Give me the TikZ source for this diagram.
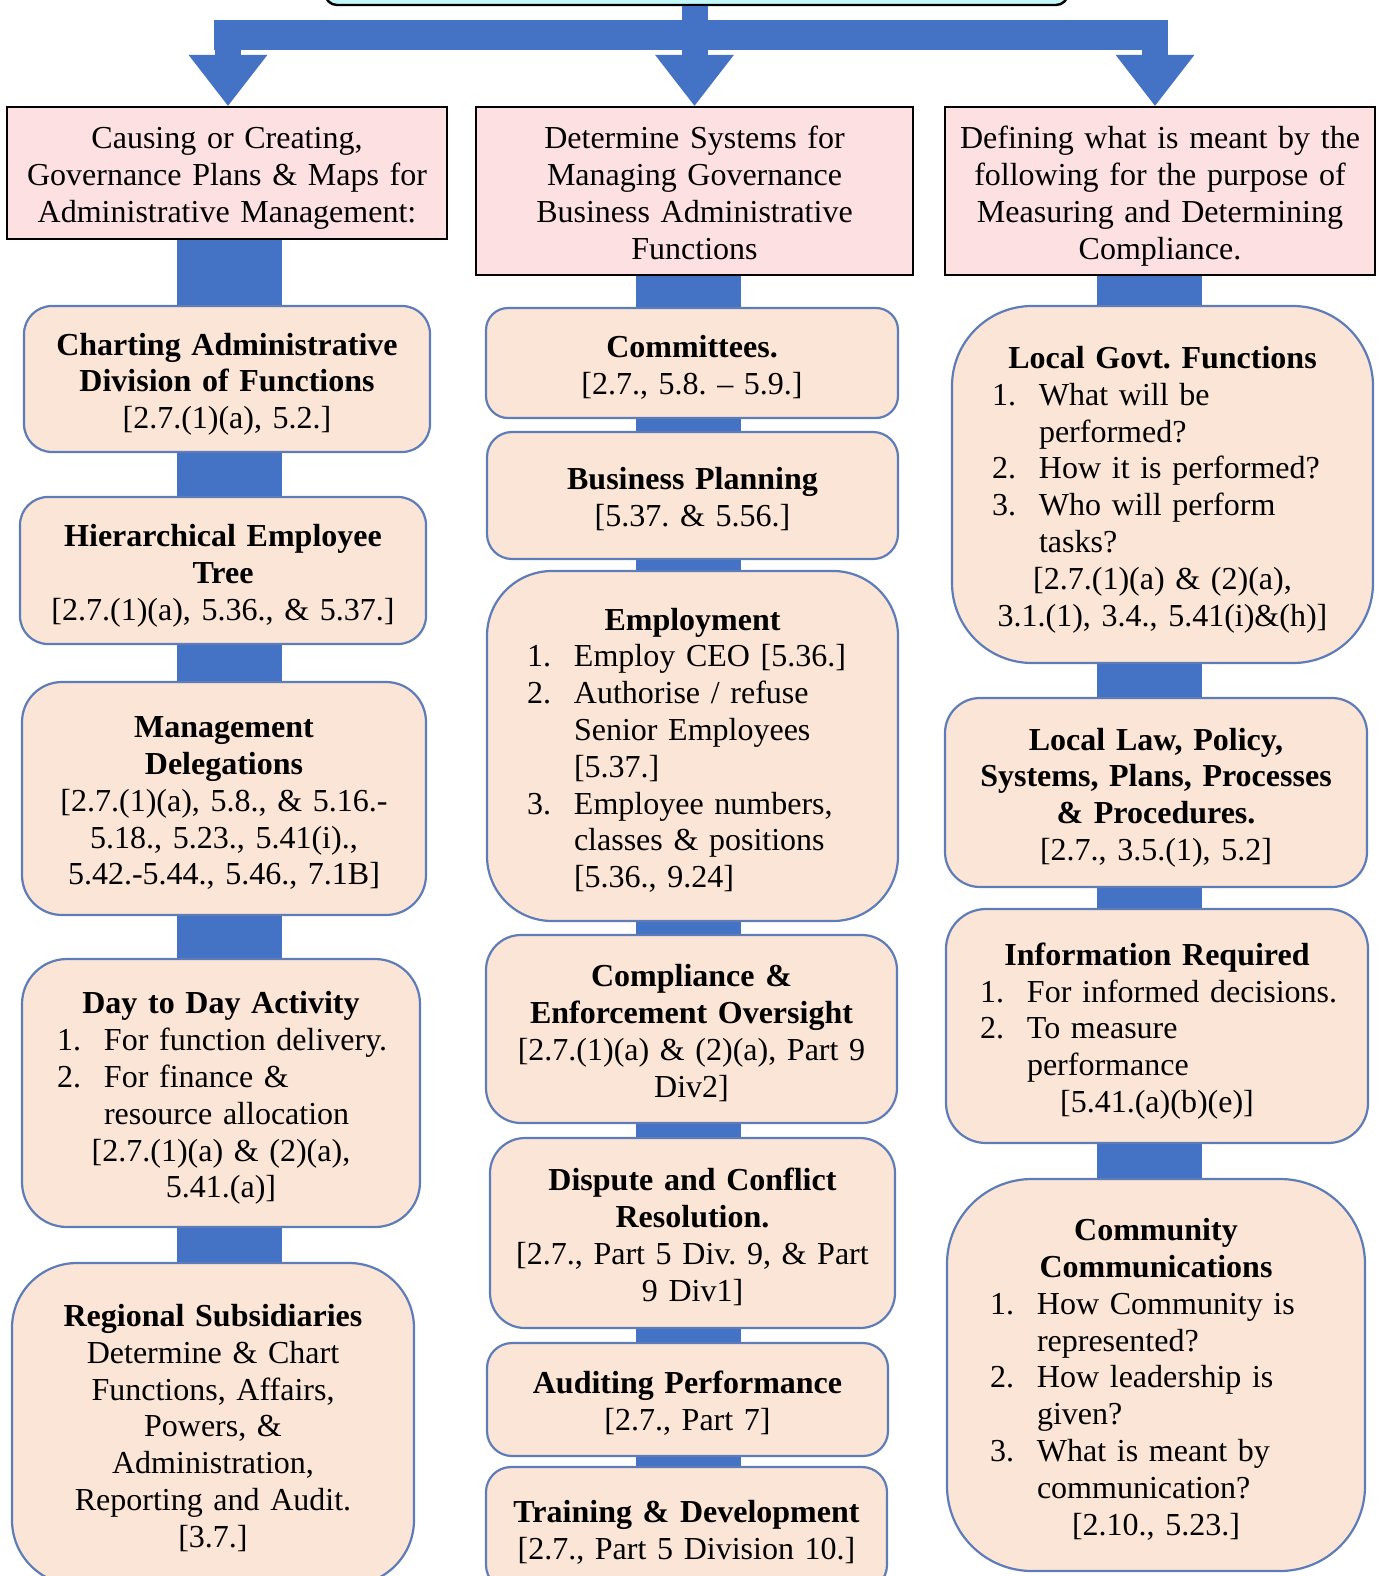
\documentclass[tikz,border=0pt]{standalone}
\usepackage{fontspec}
\setmainfont{Liberation Serif}
\usetikzlibrary{backgrounds,calc}
\frenchspacing

\definecolor{flow}{RGB}{68,114,196}
\definecolor{boxfill}{RGB}{251,229,214}
\definecolor{boxline}{RGB}{94,124,184}
\definecolor{headfill}{RGB}{253,224,225}
\definecolor{topfill}{RGB}{196,247,247}

% struts giving each text block a full first and last line
\newcommand\topstrut{\rule{0pt}{32.5pt}}
\newcommand\botstrut{\rule[-6.9pt]{0pt}{6.9pt}}
% numbered line: #1 offset of the number, #2 number, #3 text
\newcommand\numitem[3]{\makebox[\linewidth][l]{\hspace*{#1pt}\makebox[47pt][l]{#2}#3}}
% continuation line at the hanging indent
\newcommand\contline[2]{\makebox[\linewidth][l]{\hspace*{#1pt}#2}}

\begin{document}
\begin{tikzpicture}[x=1pt,y=-1pt,
  every node/.style={font=\fontsize{32}{36.8}\selectfont, align=center,
    inner xsep=0pt, inner ysep=0pt},
  headbox/.style={draw=black, line width=2.4pt, fill=headfill},
  topicbox/.style={draw=boxline, line width=2.2pt, fill=boxfill},
  link/.style={draw=flow, line width=105pt},
  arm/.style={draw=flow, line width=26pt},
]
\useasboundingbox (0,0) rectangle (1379,1576);

% top box (only its lower edge lies on the page)
\node[draw=black, line width=2.4pt, fill=topfill, rounded corners=12pt,
      minimum width=743pt, minimum height=70pt] (T) at (696.5,-30) {};

% column headers
\node[headbox, text width=440pt, minimum height=132pt] (H1) at (227,173)
  {\topstrut Causing or Creating,\\Governance Plans \& Maps for\\Administrative Management:\botstrut};
\node[headbox, text width=437pt, minimum height=168pt] (H2) at (694.5,191)
  {\topstrut Determine Systems for\\Managing Governance\\Business Administrative\\Functions\botstrut};
\node[headbox, text width=430pt, minimum height=168pt] (H3) at (1160,191)
  {\topstrut Defining what is meant by the\\following for the purpose of\\Measuring and Determining\\Compliance.\botstrut};

% left column
\node[topicbox, text width=406pt, minimum height=146pt, rounded corners=28pt] (L1) at (227,379)
  {\topstrut\textbf{Charting Administrative}\\\textbf{Division of Functions}\\{}[2.7.(1)(a), 5.2.]\botstrut};
\node[topicbox, text width=406pt, minimum height=147pt, rounded corners=28pt] (L2) at (223,570.5)
  {\topstrut\textbf{Hierarchical Employee}\\\textbf{Tree}\\{}[2.7.(1)(a), 5.36., \& 5.37.]\botstrut};
\node[topicbox, text width=404pt, minimum height=233pt, rounded corners=40pt] (L3) at (224,798.5)
  {\topstrut\textbf{Management}\\\textbf{Delegations}\\{}[2.7.(1)(a), 5.8., \& 5.16.-\\5.18., 5.23., 5.41(i).,\\5.42.-5.44., 5.46., 7.1B]\botstrut};
\node[topicbox, text width=398pt, minimum height=268pt, rounded corners=45pt] (L4) at (221,1093)
  {\topstrut\textbf{Day to Day Activity}\\
   \numitem{35}{1.}{For function delivery.}\\
   \numitem{35}{2.}{For finance \&}\\
   \contline{82}{resource allocation}\\
   {}[2.7.(1)(a) \& (2)(a),\\5.41.(a)]\botstrut};
\node[topicbox, text width=402pt, minimum height=322pt, rounded corners=65pt] (L5) at (213,1424)
  {\topstrut\textbf{Regional Subsidiaries}\\Determine \& Chart\\Functions, Affairs,\\Powers, \&\\Administration,\\Reporting and Audit.\\{}[3.7.]\botstrut};

% middle column
\node[topicbox, text width=412pt, minimum height=110pt, rounded corners=22pt] (M1) at (692,363)
  {\topstrut\textbf{Committees.}\\{}[2.7., 5.8. -- 5.9.]\botstrut};
\node[topicbox, text width=411pt, minimum height=127pt, rounded corners=25pt] (M2) at (692.5,495.5)
  {\topstrut\textbf{Business Planning}\\{}[5.37. \& 5.56.]\botstrut};
\node[topicbox, text width=411pt, minimum height=350pt, rounded corners=65pt] (M3) at (692.5,746)
  {\topstrut\textbf{Employment}\\
   \numitem{40}{1.}{Employ CEO [5.36.]}\\
   \numitem{40}{2.}{Authorise / refuse}\\
   \contline{87}{Senior Employees}\\
   \contline{87}{[5.37.]}\\
   \numitem{40}{3.}{Employee numbers,}\\
   \contline{87}{classes \& positions}\\
   \contline{87}{[5.36., 9.24]}\botstrut};
\node[topicbox, text width=411pt, minimum height=188pt, rounded corners=35pt] (M4) at (691.5,1029)
  {\topstrut\textbf{Compliance \&}\\\textbf{Enforcement Oversight}\\{}[2.7.(1)(a) \& (2)(a), Part 9\\Div2]\botstrut};
\node[topicbox, text width=405pt, minimum height=190pt, rounded corners=35pt] (M5) at (692.5,1233)
  {\topstrut\textbf{Dispute and Conflict}\\\textbf{Resolution.}\\{}[2.7., Part 5 Div. 9, \& Part\\9 Div1]\botstrut};
\node[topicbox, text width=401pt, minimum height=113pt, rounded corners=25pt] (M6) at (687.5,1399.5)
  {\topstrut\textbf{Auditing Performance}\\{}[2.7., Part 7]\botstrut};
\node[topicbox, text width=401pt, minimum height=123pt, rounded corners=25pt] (M7) at (686.5,1528.5)
  {\topstrut\textbf{Training \& Development}\\{}[2.7., Part 5 Division 10.]\botstrut};

% right column
\node[topicbox, text width=421pt, minimum height=357pt, rounded corners=80pt] (R1) at (1162.5,484.5)
  {\topstrut\textbf{Local Govt. Functions}\\
   \numitem{40}{1.}{What will be}\\
   \contline{87}{performed?}\\
   \numitem{40}{2.}{How it is performed?}\\
   \numitem{40}{3.}{Who will perform}\\
   \contline{87}{tasks?}\\
   {}[2.7.(1)(a) \& (2)(a),\\3.1.(1), 3.4., 5.41(i)\&(h)]\botstrut};
\node[topicbox, text width=422pt, minimum height=189pt, rounded corners=35pt] (R2) at (1156,792.5)
  {\topstrut\textbf{Local Law, Policy,}\\\textbf{Systems, Plans, Processes}\\\textbf{\& Procedures.}\\{}[2.7., 3.5.(1), 5.2]\botstrut};
\node[topicbox, text width=422pt, minimum height=234pt, rounded corners=40pt] (R3) at (1157,1026)
  {\topstrut\textbf{Information Required}\\
   \numitem{34}{1.}{For informed decisions.}\\
   \numitem{34}{2.}{To measure}\\
   \contline{81}{performance}\\
   {}[5.41.(a)(b)(e)]\botstrut};
\node[topicbox, text width=418pt, minimum height=392pt, rounded corners=85pt] (R4) at (1156,1375)
  {\topstrut\textbf{Community}\\\textbf{Communications}\\
   \numitem{43}{1.}{How Community is}\\
   \contline{90}{represented?}\\
   \numitem{43}{2.}{How leadership is}\\
   \contline{90}{given?}\\
   \numitem{43}{3.}{What is meant by}\\
   \contline{90}{communication?}\\
   {}[2.10., 5.23.]\botstrut};

% vertical links behind the boxes
\coordinate (colL) at (229,0);
\coordinate (colM) at (688,0);
\coordinate (colR) at (1149.5,0);
\begin{scope}[on background layer]
  \draw[link] (H1.south -| colL) -- (L1.north -| colL);
  \draw[link] (L1.south -| colL) -- (L2.north -| colL);
  \draw[link] (L2.south -| colL) -- (L3.north -| colL);
  \draw[link] (L3.south -| colL) -- (L4.north -| colL);
  \draw[link] (L4.south -| colL) -- (L5.north -| colL);
  \draw[link] (H2.south -| colM) -- (M1.north -| colM);
  \draw[link] (M1.south -| colM) -- (M2.north -| colM);
  \draw[link] (M2.south -| colM) -- (M3.north -| colM);
  \draw[link] (M3.south -| colM) -- (M4.north -| colM);
  \draw[link] (M4.south -| colM) -- (M5.north -| colM);
  \draw[link] (M5.south -| colM) -- (M6.north -| colM);
  \draw[link] (M6.south -| colM) -- (M7.north -| colM);
  \draw[link] (H3.south -| colR) -- (R1.north -| colR);
  \draw[link] (R1.south -| colR) -- (R2.north -| colR);
  \draw[link] (R2.south -| colR) -- (R3.north -| colR);
  \draw[link] (R3.south -| colR) -- (R4.north -| colR);
\end{scope}

% branching arrow from the top box to the three headers
\coordinate (armL) at (228,0);
\coordinate (armM) at (694.5,0);
\coordinate (armR) at (1155,0);
\coordinate (tipL) at (H1.north -| armL);
\coordinate (tipM) at (H2.north -| armM);
\coordinate (tipR) at (H3.north -| armR);
\fill[flow] ($(tipL)+(-14,-86)$) rectangle ($(tipR)+(13,-56)$);
\draw[arm] (T.south -| armM) -- ($(tipM)+(0,-50)$);
\draw[arm] ($(tipL)+(0,-50)$) -- ($(tipL)+(0,-86)$);
\draw[arm] ($(tipR)+(0,-50)$) -- ($(tipR)+(0,-86)$);
\fill[flow] (tipL) -- ++(-39.5,-51) -- ++(79,0) -- cycle;
\fill[flow] (tipM) -- ++(-39.5,-51) -- ++(79,0) -- cycle;
\fill[flow] (tipR) -- ++(-39.5,-51) -- ++(79,0) -- cycle;
\end{tikzpicture}
\end{document}
